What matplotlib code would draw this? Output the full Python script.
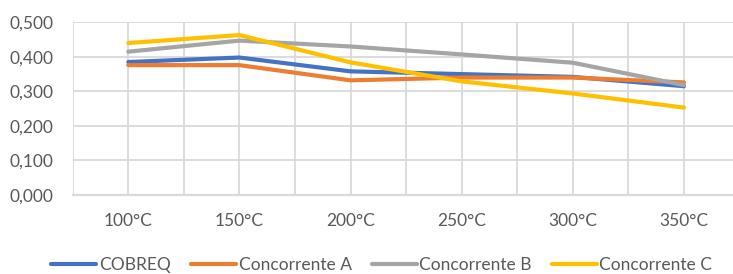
import numpy as np
import matplotlib.pyplot as plt
from matplotlib.ticker import FuncFormatter, MultipleLocator

plt.rcParams['font.family'] = ['Lato', 'DejaVu Sans']

categories = ['100°C', '150°C', '200°C', '250°C', '300°C', '350°C']
cobreq = [0.385, 0.398, 0.358, 0.350, 0.342, 0.315]
conc_a = [0.376, 0.376, 0.332, 0.340, 0.340, 0.326]
conc_b = [0.415, 0.447, 0.430, 0.407, 0.383, 0.318]
conc_c = [0.440, 0.463, 0.384, 0.329, 0.294, 0.253]

series = [('COBREQ', cobreq, '#4472C4'),
          ('Concorrente A', conc_a, '#ED7D31'),
          ('Concorrente B', conc_b, '#A5A5A5'),
          ('Concorrente C', conc_c, '#FFC000')]

txt = '#595959'
grid = '#D9D9D9'

fig = plt.figure(figsize=(7.33, 2.74), dpi=100)
ax = fig.add_axes([0.0992, 0.2883, 0.9097, 0.6303])

x = np.arange(len(categories))
for name, vals, col in series:
    ax.plot(x, vals, color=col, lw=3.0, label=name, solid_capstyle='round',
            solid_joinstyle='round')

ax.set_xlim(-0.5, len(categories) - 0.5)
ax.set_ylim(0, 0.5)
ax.set_xticks(x)
ax.set_xticklabels(categories)
ax.set_xticks(np.arange(-0.5, len(categories), 1.0), minor=True)
ax.yaxis.set_major_locator(MultipleLocator(0.1))
ax.yaxis.set_major_formatter(FuncFormatter(lambda v, p: f'{v:.3f}'.replace('.', ',')))

ax.grid(True, which='both', axis='x', color=grid, lw=1.3, zorder=0)
ax.grid(True, which='major', axis='y', color=grid, lw=1.3, zorder=0)
ax.set_axisbelow(True)
for s in ['top', 'right', 'left']:
    ax.spines[s].set_visible(False)
ax.spines['bottom'].set_color(grid)
ax.spines['bottom'].set_linewidth(1.6)

ax.tick_params(axis='both', which='both', length=0, colors=txt, labelsize=12.5)
ax.tick_params(axis='y', pad=14)
ax.tick_params(axis='x', pad=13)

fig.legend(loc='center', bbox_to_anchor=(0.521, 0.033), ncol=4, frameon=False,
           fontsize=12.5, handlelength=2.6, handletextpad=0.15, columnspacing=1.15,
           labelcolor=txt)

fig.savefig('out.png', dpi=100)
